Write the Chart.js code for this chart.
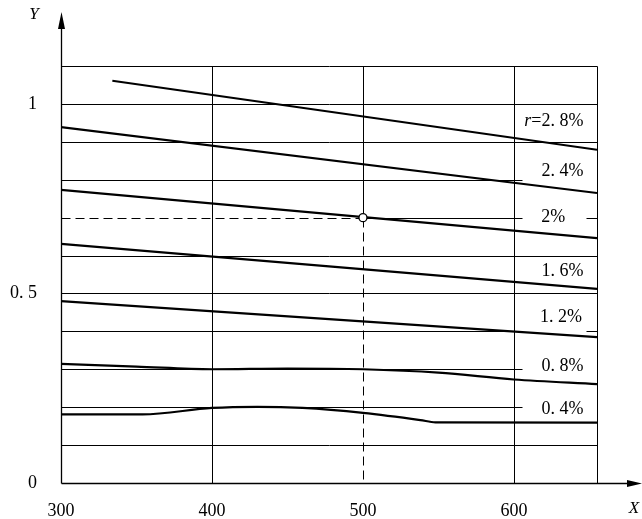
<!DOCTYPE html>
<html>
<head>
<meta charset="utf-8">
<script src="https://cdn.jsdelivr.net/npm/chart.js@4/dist/chart.umd.min.js"></script>
<style>
  html, body { margin: 0; padding: 0; background: #fff; }
  #chart { display: block; }
</style>
</head>
<body>
<canvas id="chart" width="642" height="519"></canvas>
<script>
// tick labels
const xTicks = [300, 400, 500, 600];
const yTicks = [0, 0.5, 1];
const yTickText = ['0', '0. 5', '1'];

// curves, one pair of arrays per rate
const x28 = [334, 655];
const y28 = [1.061, 0.879];
const x24 = [300, 655];
const y24 = [0.939, 0.765];
const x20 = [300, 655];
const y20 = [0.773, 0.646];
const x16 = [300, 655];
const y16 = [0.631, 0.512];
const x12 = [300, 655];
const y12 = [0.480, 0.385];
const x08 = [300, 350, 400, 450, 500, 550, 600, 655];
const y08 = [0.314, 0.307, 0.300, 0.302, 0.300, 0.291, 0.273, 0.261];
const x04 = [300, 354, 400, 430, 460, 500, 538, 548, 655];
const y04 = [0.181, 0.181, 0.198, 0.201, 0.198, 0.185, 0.166, 0.160, 0.159];

// curve labels
const rateText = ['=2. 8%', '2. 4%', '2%', '1. 6%', '1. 2%', '0. 8%', '0. 4%'];
const labelX = [646, 646, 634, 646, 645, 646, 646];
const labelY = [0.955, 0.823, 0.702, 0.559, 0.438, 0.309, 0.195];

// marked point
const markX = 500;
const markY = 0.7;

const gridY = [0.1, 0.2, 0.3, 0.4, 0.5, 0.6, 0.7, 0.8, 0.9, 1.0, 1.1];
const gridX = [400, 500, 600, 655];
const cutY = [0.2, 0.3, 0.4, 0.7, 0.8];   // lines broken by labels
const resumeY = [0.4, 0.7];

const FONT = '"Liberation Serif", "DejaVu Serif", serif';

function pts(xs, ys) {
  return xs.map((x, i) => ({ x: x, y: ys[i] }));
}

function curve(xs, ys) {
  return {
    data: pts(xs, ys),
    showLine: true,
    borderColor: '#000',
    borderWidth: 2.2,
    pointRadius: 0,
    cubicInterpolationMode: 'monotone',
    fill: false
  };
}

const frame = {
  id: 'frame',
  beforeDatasetsDraw(chart) {
    const ctx = chart.ctx;
    const xs = chart.scales.x, ys = chart.scales.y;
    const px = v => Math.round(xs.getPixelForValue(v)) + 0.5;
    const py = v => Math.round(ys.getPixelForValue(v)) + 0.5;
    ctx.save();
    ctx.strokeStyle = '#000';
    ctx.lineWidth = 1;

    gridY.forEach(v => {
      const y = py(v);
      const k = Math.round(v * 10);
      const cut = cutY.some(c => Math.round(c * 10) === k);
      const res = resumeY.some(c => Math.round(c * 10) === k);
      let start = 300;
      if (k === 7) {
        ctx.setLineDash([9, 5]);
        ctx.beginPath();
        ctx.moveTo(px(300), y);
        ctx.lineTo(px(markX), y);
        ctx.stroke();
        ctx.setLineDash([]);
        start = markX;
      }
      ctx.beginPath();
      ctx.moveTo(px(start), y);
      ctx.lineTo(px(cut ? 605 : 655), y);
      if (res) {
        ctx.moveTo(px(648), y);
        ctx.lineTo(px(655), y);
      }
      ctx.stroke();
    });

    gridX.forEach(v => {
      const x = px(v);
      ctx.beginPath();
      if (v === markX) {
        ctx.moveTo(x, py(1.1));
        ctx.lineTo(x, py(markY));
        ctx.stroke();
        ctx.setLineDash([9, 5]);
        ctx.beginPath();
        ctx.moveTo(x, py(markY));
        ctx.lineTo(x, py(0));
        ctx.stroke();
        ctx.setLineDash([]);
      } else {
        ctx.moveTo(x, py(0));
        ctx.lineTo(x, py(1.1));
        ctx.stroke();
      }
    });

    // axes with arrows
    const ox = px(300), oy = py(0);
    ctx.lineWidth = 1.3;
    ctx.beginPath();
    ctx.moveTo(ox, oy);
    ctx.lineTo(ox, 26);
    ctx.moveTo(ox, oy);
    ctx.lineTo(630, oy);
    ctx.stroke();
    ctx.fillStyle = '#000';
    ctx.beginPath();
    ctx.moveTo(ox, 12);
    ctx.lineTo(ox - 3.5, 29);
    ctx.lineTo(ox + 3.5, 29);
    ctx.closePath();
    ctx.fill();
    ctx.beginPath();
    ctx.moveTo(642, oy);
    ctx.lineTo(627, oy - 3.5);
    ctx.lineTo(627, oy + 3.5);
    ctx.closePath();
    ctx.fill();
    ctx.restore();
  },
  afterDraw(chart) {
    const ctx = chart.ctx;
    const xs = chart.scales.x, ys = chart.scales.y;
    ctx.save();
    ctx.fillStyle = '#000';
    ctx.textBaseline = 'middle';

    ctx.font = 'italic 17px ' + FONT;
    ctx.textAlign = 'center';
    ctx.fillText('Y', 34, 15);
    ctx.fillText('X', 634, 509);

    ctx.textAlign = 'right';
    rateText.forEach((t, i) => {
      const x = xs.getPixelForValue(labelX[i]);
      const y = ys.getPixelForValue(labelY[i]);
      ctx.font = '18px ' + FONT;
      ctx.fillText(t, x, y);
      if (i === 0) {
        const w = ctx.measureText(t).width;
        ctx.font = 'italic 18px ' + FONT;
        ctx.fillText('r', x - w, y);
      }
    });
    ctx.restore();
  }
};

new Chart(document.getElementById('chart'), {
  type: 'scatter',
  data: {
    datasets: [
      {
        data: [{ x: markX, y: markY }],
        pointRadius: 4,
        pointBackgroundColor: '#fff',
        pointBorderColor: '#000',
        pointBorderWidth: 1.3,
        showLine: false
      },
      curve(x28, y28),
      curve(x24, y24),
      curve(x20, y20),
      curve(x16, y16),
      curve(x12, y12),
      curve(x08, y08),
      curve(x04, y04)
    ]
  },
  options: {
    responsive: false,
    animation: false,
    layout: { padding: { top: 66, right: 45, left: 0, bottom: 0 } },
    plugins: { legend: { display: false }, tooltip: { enabled: false } },
    scales: {
      x: {
        type: 'linear',
        min: 300,
        max: 655,
        grid: { display: false },
        border: { display: false },
        afterFit: s => { s.height = 36; },
        ticks: {
          stepSize: 100,
          padding: 9,
          color: '#000',
          font: { family: FONT, size: 18 },
          maxRotation: 0,
          autoSkip: false,
          callback: v => xTicks.includes(v) ? String(v) : ''
        }
      },
      y: {
        type: 'linear',
        min: 0,
        max: 1.1,
        grid: { display: false },
        border: { display: false },
        afterFit: s => { s.width = 61; },
        ticks: {
          stepSize: 0.1,
          padding: 16,
          color: '#000',
          font: { family: FONT, size: 18 },
          autoSkip: false,
          callback: v => {
            const i = yTicks.findIndex(t => Math.abs(t - v) < 1e-6);
            return i >= 0 ? yTickText[i] : '';
          }
        }
      }
    }
  },
  plugins: [frame]
});
</script>
</body>
</html>
